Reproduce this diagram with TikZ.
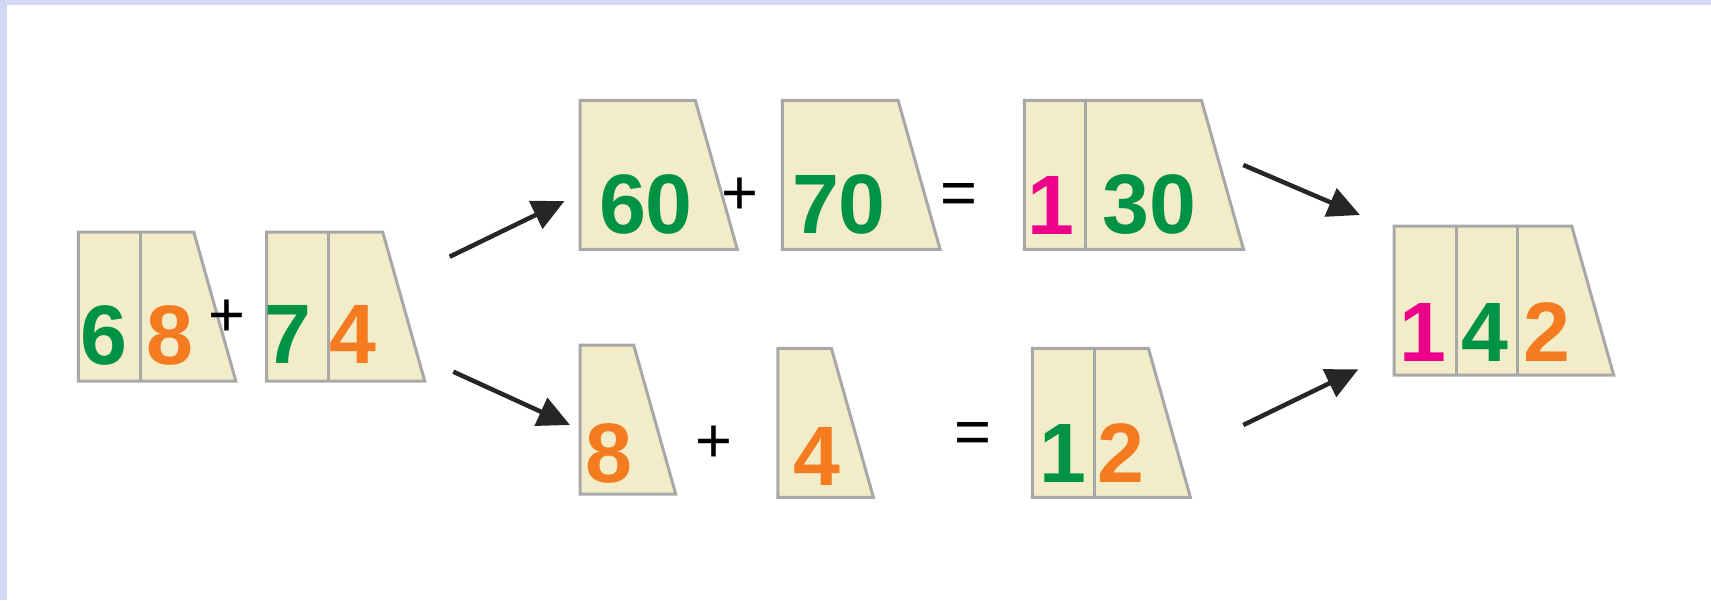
\documentclass[tikz,border=0pt]{standalone}
\usepackage{fontspec}
\setmainfont{Liberation Sans}
\usetikzlibrary{arrows.meta}
\definecolor{cardfill}{RGB}{242,237,200}
\definecolor{cardedge}{RGB}{168,168,168}
\definecolor{tensgreen}{RGB}{0,146,69}
\definecolor{onesorange}{RGB}{244,123,32}
\definecolor{hundpink}{RGB}{236,0,140}
\definecolor{frameblue}{RGB}{208,216,244}

\begin{document}
\begin{tikzpicture}[
    card/.style={draw=cardedge,line width=0.03cm,fill=cardfill,line join=miter},
    divider/.style={draw=cardedge,line width=0.03cm},
    digit/.style={font=\bfseries\fontsize{24}{24}\selectfont,anchor=base,inner sep=0pt},
    ones/.style={digit,text=onesorange},
    tens/.style={digit,text=tensgreen},
    hund/.style={digit,text=hundpink},
    op/.style={font=\fontsize{18}{18}\selectfont,inner sep=0pt},
    arr/.style={-{Triangle[length=0.32cm,width=0.3cm]},line width=0.045cm,draw=black!85}
  ]
    \fill[frameblue] (0,0) rectangle (17.11,-6);
    \fill[white] (0.073,-0.05) rectangle (17.11,-6);
    \useasboundingbox (0,0) rectangle (17.11,-6);

    % 68 + 74
    \draw[card] (0.783,-3.81) -- ++(0,1.49) -- ++(1.155,0) -- ++(0.42,-1.49) -- cycle;
    \draw[divider] (1.40,-3.81) -- ++(0,1.49);
    \node[tens] (d6) at (1.042,-3.645) {6};
    \node[ones] (d8) at (1.70,-3.645) {8};

    \draw[card] (2.667,-3.81) -- ++(0,1.49) -- ++(1.16,0) -- ++(0.42,-1.49) -- cycle;
    \draw[divider] (3.283,-3.81) -- ++(0,1.49);
    \node[tens] (d7) at (2.875,-3.635) {7};
    \node[ones] (d4) at (3.525,-3.635) {4};
    \node[op] (plusa) at (2.267,-3.18) {+};

    \coordinate (upa) at (4.497,-2.567);
    \coordinate (upb) at (5.645,-2.01);
    \coordinate (dna) at (4.533,-3.717);
    \coordinate (dnb) at (5.70,-4.25);
    \draw[arr] (upa) -- (upb);
    \draw[arr] (dna) -- (dnb);

    % tens row
    \draw[card] (5.80,-2.493) -- ++(0,1.49) -- ++(1.153,0) -- ++(0.42,-1.49) -- cycle;
    \node[tens] (d60) at (6.46,-2.33) {60};
    \draw[card] (7.823,-2.493) -- ++(0,1.49) -- ++(1.158,0) -- ++(0.42,-1.49) -- cycle;
    \node[tens] (d70) at (8.39,-2.33) {70};
    \node[op] (plusb) at (7.40,-1.96) {+};
    \node[op] (eqa) at (9.587,-1.99) {=};
    \draw[card] (10.243,-2.493) -- ++(0,1.49) -- ++(1.772,0) -- ++(0.42,-1.49) -- cycle;
    \draw[divider] (10.854,-2.493) -- ++(0,1.49);
    \node[hund] (d100) at (10.51,-2.34) {1};
    \node[tens] (d30) at (11.495,-2.33) {30};

    % ones row
    \draw[card] (5.80,-4.94) -- ++(0,1.49) -- ++(0.537,0) -- ++(0.42,-1.49) -- cycle;
    \node[ones] (e8) at (6.09,-4.82) {8};
    \draw[card] (7.779,-4.973) -- ++(0,1.49) -- ++(0.535,0) -- ++(0.42,-1.49) -- cycle;
    \node[ones] (e4) at (8.167,-4.85) {4};
    \node[op] (plusc) at (7.14,-4.44) {+};
    \node[op] (eqb) at (9.734,-4.38) {=};
    \draw[card] (10.323,-4.973) -- ++(0,1.49) -- ++(1.161,0) -- ++(0.42,-1.49) -- cycle;
    \draw[divider] (10.948,-4.973) -- ++(0,1.49);
    \node[tens] (e10) at (10.625,-4.82) {1};
    \node[ones] (e2) at (11.214,-4.82) {2};

    \coordinate (ina) at (12.433,-1.65);
    \coordinate (inb) at (13.60,-2.15);
    \coordinate (inc) at (12.433,-4.25);
    \coordinate (ind) at (13.583,-3.693);
    \draw[arr] (ina) -- (inb);
    \draw[arr] (inc) -- (ind);

    % result
    \draw[card] (13.94,-3.75) -- ++(0,1.49) -- ++(1.777,0) -- ++(0.42,-1.49) -- cycle;
    \draw[divider] (14.56,-3.75) -- ++(0,1.49);
    \draw[divider] (15.173,-3.75) -- ++(0,1.49);
    \node[hund] (f1) at (14.23,-3.61) {1};
    \node[tens] (f4) at (14.85,-3.61) {4};
    \node[ones] (f2) at (15.467,-3.61) {2};
  \end{tikzpicture}
\end{document}
